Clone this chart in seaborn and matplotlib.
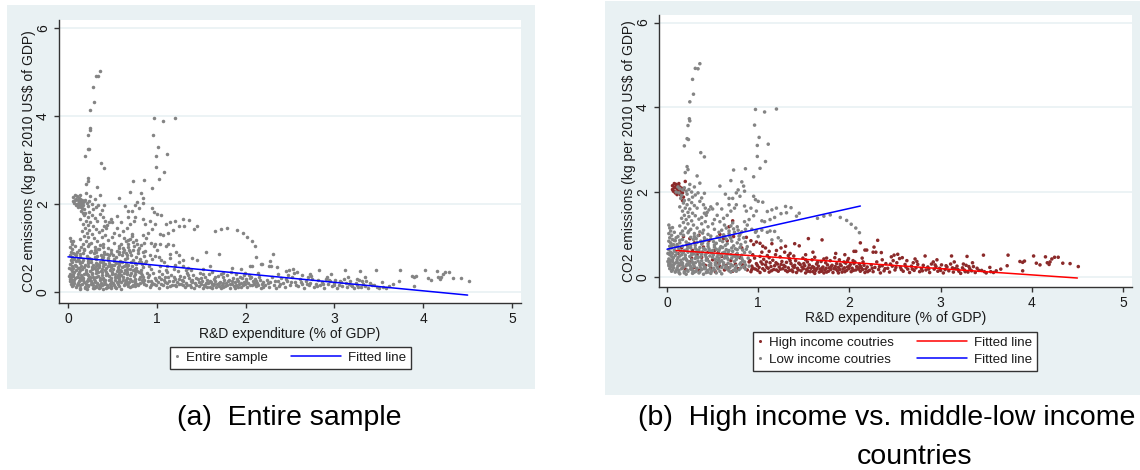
import matplotlib
matplotlib.use("Agg")
import pandas as pd
import matplotlib.pyplot as plt
import seaborn as sns
from matplotlib.patches import Rectangle
from matplotlib.lines import Line2D
from matplotlib.legend_handler import HandlerLine2D

# ---- data: (R&D % of GDP, CO2 kg per 2010 US$) ----
# low income countries (grey)
low_peak = [(0.36,5.03),(0.31,4.92),(0.34,4.91),(0.28,4.66),(0.29,4.31),(0.25,4.13),(0.245,3.73),(0.25,3.68),
            (0.23,3.57),(0.22,3.26),(0.235,3.24),(0.19,3.09),(0.37,2.93),(0.41,2.83),(0.22,2.60),(0.23,2.53),
            (0.20,2.46),(0.33,2.38),(0.36,2.21),(0.30,2.12),(0.41,1.97),(0.38,1.86)]
low_arc = [(0.97,3.95),(1.07,3.89),(1.20,3.96),(0.96,3.58),(1.01,3.29),(0.99,3.10),(1.11,3.13),(0.99,2.84),
           (1.02,2.56),(1.08,2.72),(0.95,2.36),(0.86,2.55),(0.73,2.52),(0.70,2.27),(0.82,2.24),(0.84,2.14),
           (0.78,2.05),(0.85,2.02),(0.76,1.98),(0.80,1.90),(0.95,1.90),(0.97,1.82),(1.00,1.78),(1.05,1.76),
           (0.72,1.85),(0.68,1.70),(0.58,2.14),(0.64,1.95)]
low_tail = [(1.15,1.58),(1.20,1.62),(1.30,1.66),(1.36,1.63),(1.45,1.50),(1.25,1.49),(1.10,1.54),(1.13,1.35),
            (1.07,1.30),(1.65,1.38),(1.72,1.43),(1.79,1.46),(1.90,1.40),(1.97,1.33),(2.02,1.24),(2.07,1.15),
            (2.11,1.04),(1.04,1.10),(1.10,1.05),(1.18,1.07),(1.22,0.92),(1.25,0.85),(1.15,0.87),(0.85,1.67),
            (0.98,1.55),(1.04,1.32),(1.18,1.40),(0.95,1.44),(0.98,1.08),(1.13,1.08),(1.31,1.51),(1.42,1.43),
            (0.87,1.55),(0.90,1.35),(0.92,1.62),(0.85,1.30),(0.88,1.22),(0.93,1.12),(1.00,0.95),(0.97,1.05)]
low_edge = [(0.02,1.22),(0.03,1.15),(0.04,1.08),(0.02,1.02),(0.05,0.98),(0.03,0.92),(0.06,0.88),(0.02,0.84),
            (0.04,0.80),(0.07,0.76),(0.03,0.72),(0.05,0.68),(0.02,0.64),(0.08,0.62),(0.04,0.58),(0.06,0.55),
            (0.03,0.52),(0.05,0.48),(0.07,0.45),(0.02,0.42),(0.04,0.39),(0.06,0.36),(0.03,0.33),(0.08,0.31),
            (0.05,0.28),(0.02,0.26),(0.04,0.23),(0.07,0.21),(0.03,0.19),(0.06,0.16),(0.05,0.13),(0.09,0.11),
            (0.02,0.30),(0.09,0.50),(0.09,0.70),(0.10,0.92),(0.08,1.05),(0.06,1.16),(0.01,0.55),(0.01,0.36)]
low_upper = [(0.12,2.12),(0.14,2.08),(0.17,2.05),(0.19,2.10),(0.21,2.02),(0.24,2.06),(0.27,2.00),(0.13,1.98),
             (0.16,1.92),(0.22,1.95),(0.28,1.88),(0.31,1.93),(0.15,1.85),(0.19,1.80),(0.24,1.82),(0.18,1.74),
             (0.22,1.70),(0.27,1.75),(0.30,1.68),(0.14,1.65),(0.20,1.62),(0.25,1.60),(0.33,1.62),(0.17,1.55),
             (0.23,1.52),(0.28,1.50),(0.19,1.45),(0.24,1.42),(0.31,1.44),(0.16,1.38),(0.21,1.35),(0.27,1.32),
             (0.35,1.36),(0.18,1.28),(0.23,1.25),(0.29,1.22),(0.14,1.20),(0.20,1.15),(0.26,1.12),(0.33,1.15),
             (0.38,1.25),(0.42,1.30),(0.17,1.08),(0.23,1.04),(0.30,1.02),(0.36,1.06),(0.40,1.10),(0.45,1.18),
             (0.43,1.45),(0.46,1.58),(0.48,1.65),(0.40,1.70),(0.36,1.78),(0.25,2.18),(0.10,2.00),(0.34,1.98),
             (0.44,1.52),(0.50,1.60),(0.42,1.62),(0.55,1.72),(0.60,1.60),(0.68,1.85),(0.45,1.00),(0.52,1.12),
             (0.38,1.40),(0.41,1.50)]
low_hump = [(0.60,1.10),(0.65,1.15),(0.70,1.20),(0.73,1.13),(0.77,1.18),(0.68,1.08),(0.63,1.22),(0.72,1.27),
            (0.78,1.10),(0.82,1.06),(0.86,1.12),(0.58,1.30),(0.62,1.38),(0.66,1.45),(0.70,1.55),(0.74,1.62),
            (0.76,1.70),(0.55,1.45),(0.52,1.35),(0.50,1.25)]
low_core = [(0.12,0.95),(0.18,0.98),(0.26,0.93),(0.34,0.97),(0.41,0.92),(0.48,0.96),(0.55,0.94),(0.62,0.99),
            (0.68,1.02),(0.74,1.05),(0.80,1.00),(0.14,0.86),(0.21,0.82),(0.29,0.88),(0.37,0.84),(0.44,0.87),
            (0.51,0.83),(0.58,0.86),(0.65,0.89),(0.71,0.84),(0.79,0.88),(0.86,0.82),(0.11,0.76),(0.17,0.72),
            (0.24,0.78),(0.31,0.74),(0.38,0.77),(0.45,0.72),(0.52,0.75),(0.59,0.71),(0.66,0.78),(0.73,0.73),
            (0.81,0.76),(0.88,0.71),(0.13,0.66),(0.19,0.62),(0.26,0.68),(0.33,0.63),(0.40,0.67),(0.47,0.61),
            (0.54,0.65),(0.61,0.69),(0.68,0.62),(0.75,0.66),(0.83,0.63),(0.22,0.65),(0.36,0.69),(0.11,0.55),
            (0.16,0.52),(0.23,0.58),(0.29,0.54),(0.35,0.57),(0.42,0.51),(0.49,0.56),(0.56,0.53),(0.63,0.58),
            (0.70,0.52),(0.77,0.55),(0.85,0.57),(0.20,0.51),(0.39,0.59),(0.59,0.50),(0.12,0.45),(0.18,0.42),
            (0.25,0.48),(0.31,0.43),(0.37,0.47),(0.44,0.41),(0.50,0.46),(0.57,0.43),(0.64,0.49),(0.71,0.44),
            (0.78,0.47),(0.14,0.49),(0.27,0.40),(0.47,0.49),(0.67,0.41),(0.34,0.45),(0.11,0.35),(0.17,0.32),
            (0.22,0.38),(0.28,0.34),(0.34,0.37),(0.40,0.31),(0.46,0.36),(0.53,0.33),(0.60,0.38),(0.67,0.32),
            (0.74,0.36),(0.81,0.33),(0.15,0.39),(0.25,0.31),(0.43,0.39),(0.57,0.30),(0.31,0.33),(0.12,0.25),
            (0.18,0.22),(0.24,0.28),(0.30,0.24),(0.36,0.27),(0.42,0.21),(0.48,0.26),(0.55,0.23),(0.62,0.28),
            (0.69,0.22),(0.76,0.26),(0.84,0.24),(0.15,0.29),(0.27,0.20),(0.39,0.29),(0.51,0.20),(0.65,0.25),
            (0.21,0.26),(0.13,0.15),(0.19,0.12),(0.26,0.18),(0.32,0.14),(0.38,0.17),(0.45,0.11),(0.52,0.16),
            (0.58,0.13),(0.66,0.18),(0.73,0.15),(0.16,0.19),(0.29,0.10),(0.41,0.19),(0.23,0.13),(0.35,0.09),
            (0.14,0.07),(0.21,0.06),(0.28,0.08),(0.40,0.06),(0.48,0.08),(0.60,0.07)]
low_fill = [(0.15,0.60),(0.27,0.57),(0.38,0.53),(0.50,0.62),(0.61,0.56),(0.72,0.60),(0.20,0.45),(0.32,0.49),
            (0.43,0.46),(0.55,0.47),(0.66,0.52),(0.76,0.41),(0.13,0.31),(0.24,0.35),(0.36,0.32),(0.48,0.31),
            (0.58,0.35),(0.70,0.29),(0.80,0.30),(0.17,0.27),(0.29,0.29),(0.41,0.24),(0.53,0.28),(0.64,0.21),
            (0.75,0.20),(0.86,0.28),(0.11,0.20),(0.22,0.16),(0.33,0.20),(0.44,0.15),(0.56,0.19),(0.68,0.14),
            (0.79,0.17),(0.19,0.09),(0.31,0.12),(0.43,0.10),(0.54,0.09),(0.26,0.74),(0.39,0.80),(0.52,0.70),
            (0.64,0.74),(0.77,0.80),(0.14,0.80),(0.30,0.95),(0.45,0.78),(0.58,0.91),(0.69,0.95),(0.84,0.92),
            (0.09,0.85),(0.11,0.40),(0.10,0.15),(0.35,0.62),(0.46,0.66),(0.57,0.62),(0.63,0.44),(0.73,0.49),
            (0.82,0.51),(0.89,0.44),(0.91,0.58),(0.90,0.25),(0.87,0.65),(0.83,0.38)]
low_fill2 = [(0.16,0.34),(0.21,0.41),(0.26,0.24),(0.32,0.58),(0.37,0.21),(0.42,0.64),(0.47,0.18),(0.53,0.41),
             (0.58,0.67),(0.62,0.33),(0.67,0.58),(0.72,0.26),(0.77,0.64),(0.82,0.43),(0.86,0.18),(0.18,0.57),
             (0.23,0.70),(0.28,0.15),(0.33,0.81),(0.38,0.38),(0.43,0.55),(0.49,0.13),(0.54,0.79),(0.60,0.22),
             (0.65,0.64),(0.70,0.11),(0.75,0.48),(0.80,0.69),(0.85,0.35),(0.13,0.10),(0.17,0.88),(0.22,0.30),
             (0.27,0.52),(0.31,0.67),(0.36,0.12),(0.41,0.86),(0.46,0.27),(0.51,0.52),(0.56,0.38),(0.61,0.83),
             (0.66,0.45),(0.71,0.68),(0.76,0.13),(0.81,0.21),(0.12,0.71),(0.15,1.02),(0.24,1.08),(0.32,0.90),
             (0.39,1.03),(0.48,0.89),(0.57,1.05),(0.63,0.95),(0.70,0.91),(0.79,0.96),(0.06,0.40),(0.08,0.86),
             (0.07,0.27),(0.09,0.60),(0.10,0.33),(0.05,0.74)]

# high income countries (dark red)
high_top = [(0.06,2.15),(0.08,2.10),(0.10,2.18),(0.12,2.05),(0.14,2.12),(0.07,2.02),(0.09,1.98),(0.11,2.08),
            (0.13,1.99),(0.15,2.03),(0.16,2.09),(0.08,2.20),(0.12,2.14),(0.10,2.01),(0.14,1.96),(0.06,2.06),
            (0.17,1.98),(0.11,1.94),(0.09,2.12),(0.13,2.20),(0.18,2.06),(0.15,1.93),(0.20,2.25),(0.18,1.88),
            (0.17,1.80)]
high_left = [(0.12,0.55),(0.18,0.95),(0.22,0.75),(0.28,0.62),(0.33,0.52),(0.38,0.46),(0.45,0.58),(0.50,0.40),
             (0.55,0.33),(0.60,0.48),(0.65,0.27),(0.70,0.38),(0.75,0.30),(0.80,0.45),(0.85,0.22),(0.14,0.28),
             (0.20,0.18),(0.25,0.35),(0.30,0.22),(0.35,0.15),(0.42,0.27),(0.48,0.20),(0.53,0.12),(0.58,0.24),
             (0.63,0.16),(0.68,0.21),(0.72,0.13),(0.78,0.19),(0.83,0.28),(0.88,0.16),(0.90,0.35),(0.62,0.90),
             (0.58,1.00),(0.66,0.85),(0.73,0.95),(0.82,0.68),(0.87,0.93),(0.92,0.85),(0.95,0.76),(0.98,0.82),
             (1.02,0.79),(1.05,0.72),(1.08,0.68),(1.12,0.60),(0.25,0.90),(0.30,0.80),(0.16,0.68),(0.40,0.70),
             (0.46,0.85),(0.52,0.62),(0.68,1.18),(0.72,1.32),(0.35,0.98),(0.27,0.44),(0.44,0.42),(0.56,0.57),
             (0.76,0.52)]
high_band = [(0.92,0.12),(0.93,0.25),(0.91,0.38),(0.94,0.52),(0.97,0.18),(0.98,0.31),(0.96,0.44),(1.02,0.10),
             (1.01,0.22),(1.03,0.35),(1.02,0.48),(1.04,0.58),(1.07,0.15),(1.08,0.28),(1.06,0.41),(1.12,0.11),
             (1.11,0.20),(1.13,0.33),(1.12,0.45),(1.17,0.17),(1.18,0.26),(1.16,0.39),(1.19,0.52),(1.22,0.13),
             (1.23,0.23),(1.21,0.30),(1.24,0.47),(1.27,0.19),(1.28,0.27),(1.26,0.36),(1.29,0.58),(1.32,0.12),
             (1.33,0.21),(1.31,0.34),(1.34,0.43),(1.37,0.16),(1.38,0.25),(1.36,0.31),(1.39,0.49),(1.42,0.10),
             (1.43,0.20),(1.41,0.38),(1.47,0.14),(1.48,0.23),(1.46,0.29),(1.49,0.44),(1.52,0.09),(1.53,0.17),
             (1.51,0.26),(1.54,0.35),(1.52,0.52),(1.57,0.12),(1.58,0.20),(1.56,0.28),(1.59,0.40),(1.62,0.08),
             (1.63,0.15),(1.61,0.22),(1.64,0.30),(1.62,0.46),(1.67,0.11),(1.68,0.18),(1.66,0.25),(1.69,0.36),
             (1.72,0.09),(1.73,0.16),(1.71,0.23),(1.74,0.33),(1.72,0.42),(1.77,0.13),(1.78,0.21),(1.76,0.28),
             (1.79,0.38),(1.82,0.10),(1.83,0.19),(1.81,0.27),(1.84,0.45),(1.87,0.14),(1.88,0.22),(1.86,0.31),
             (1.89,0.40),(1.92,0.11),(1.93,0.18),(1.91,0.26),(1.94,0.35),(1.97,0.15),(1.98,0.23),(1.96,0.32),
             (1.99,0.43),(2.02,0.12),(2.03,0.20),(2.01,0.29),(2.04,0.38),(2.07,0.16),(2.08,0.24),(2.06,0.35),
             (2.12,0.13),(2.13,0.21),(2.11,0.30),(2.14,0.44),(2.17,0.10),(2.18,0.18),(2.16,0.27),(0.945,0.20),
             (0.995,0.15),(1.045,0.30),(1.095,0.22),(1.145,0.14),(1.195,0.33),(1.245,0.18),(1.295,0.24),
             (1.345,0.15),(1.395,0.22),(1.445,0.32),(1.495,0.19),(1.545,0.13),(1.595,0.24),(1.645,0.19),
             (1.695,0.13),(1.745,0.20),(1.795,0.17),(1.845,0.24),(1.895,0.17),(1.945,0.21),(1.995,0.19),
             (2.045,0.15),(2.095,0.21),(2.145,0.17),(2.195,0.23)]
high_fill = [(0.93,0.17),(0.99,0.27),(1.05,0.19),(1.09,0.35),(1.14,0.24),(1.20,0.16),(1.25,0.29),(1.30,0.15),
             (1.35,0.38),(1.40,0.27),(1.44,0.16),(1.50,0.31),(1.55,0.21),(1.60,0.12),(1.65,0.34),(1.70,0.20),
             (1.75,0.11),(1.80,0.24),(1.85,0.18),(1.90,0.29),(1.95,0.12),(2.00,0.25),(2.05,0.31),(2.10,0.18),
             (2.15,0.35),(2.20,0.12),(2.25,0.20),(2.33,0.24),(2.39,0.19),(2.45,0.30),(2.51,0.22),(2.57,0.17),
             (2.62,0.23),(2.69,0.18),(2.74,0.36),(2.80,0.14),(2.87,0.18),(2.94,0.28),(3.00,0.15),(3.06,0.26),
             (3.13,0.21),(3.19,0.17),(3.25,0.30),(3.31,0.24),(3.35,0.33),(3.27,0.12),(3.15,0.35),(2.96,0.40),
             (2.72,0.42),(2.48,0.38),(2.36,0.40),(1.98,0.38),(1.75,0.44),(1.52,0.40),(1.33,0.50),(1.10,0.50),
             (1.38,0.12),(1.62,0.18),(1.88,0.09),(2.12,0.25)]
high_mid = [(1.40,0.78),(1.45,0.73),(1.55,0.90),(1.70,0.87),(1.25,0.68),(1.30,0.72),(1.15,0.78),(2.05,0.60),
            (2.12,0.80),(2.17,0.63),(2.19,0.63),(2.07,0.60),(2.26,0.58),(2.29,0.58),(2.27,0.70),(2.31,0.86),
            (2.35,0.57),(1.20,0.62),(1.35,0.55),(1.60,0.58),(1.85,0.55),(1.95,0.52)]
high_right = [(2.22,0.15),(2.24,0.28),(2.26,0.12),(2.28,0.22),(2.30,0.35),(2.32,0.17),(2.34,0.09),(2.36,0.26),
              (2.38,0.14),(2.40,0.31),(2.42,0.20),(2.44,0.11),(2.46,0.47),(2.47,0.25),(2.49,0.51),(2.50,0.16),
              (2.52,0.33),(2.53,0.53),(2.55,0.43),(2.56,0.22),(2.58,0.45),(2.59,0.13),(2.61,0.29),(2.63,0.38),
              (2.64,0.18),(2.66,0.10),(2.68,0.25),(2.70,0.33),(2.71,0.15),(2.73,0.21),(2.75,0.29),(2.77,0.12),
              (2.79,0.19),(2.81,0.27),(2.83,0.49),(2.84,0.16),(2.86,0.23),(2.88,0.10),(2.90,0.30),(2.92,0.35),
              (2.93,0.18),(2.95,0.24),(2.97,0.13),(2.99,0.20),(3.01,0.28),(3.03,0.09),(3.05,0.17),(3.07,0.23),
              (3.09,0.14),(3.11,0.30),(3.12,0.49),(3.14,0.11),(3.16,0.19),(3.18,0.25),(3.20,0.13),(3.22,0.08),
              (3.24,0.21),(3.26,0.16),(3.28,0.27),(3.29,0.48),(3.30,0.11),(3.32,0.19),(3.34,0.14),(3.36,0.24),
              (3.38,0.10),(3.40,0.20),(3.42,0.15),(3.45,0.15),(3.47,0.51),(3.48,0.12),(3.50,0.09)]
high_tail = [(3.54,0.22),(3.61,0.14),(3.73,0.26),(3.74,0.51),(3.87,0.36),(3.90,0.34),(3.92,0.37),(3.90,0.14),
             (4.02,0.49),(4.05,0.32),(4.09,0.28),(4.15,0.47),(4.17,0.33),(4.20,0.35),(4.22,0.42),(4.25,0.46),
             (4.19,0.29),(4.29,0.46),(4.34,0.32),(4.42,0.31),(4.51,0.24),(3.55,0.12),(3.58,0.10),(3.66,0.18)]

# fitted lines (end points)
fit_all_x, fit_all_y = [0.0, 4.5], [0.80, -0.07]
fit_high_x, fit_high_y = [0.10, 4.5], [0.62, -0.03]
fit_low_x, fit_low_y = [0.0, 2.12], [0.65, 1.67]

HIGH = "High income coutries"
LOW = "Low income coutries"


def frame(pts, group):
    return pd.DataFrame(pts, columns=["rd", "co2"]).assign(group=group)


high_sets = [high_top, high_left, high_band, high_fill, high_mid, high_right, high_tail]
low_sets = [low_peak, low_arc, low_tail, low_edge, low_upper, low_hump, low_core, low_fill, low_fill2]
df = pd.concat([frame(p, HIGH) for p in high_sets] + [frame(p, LOW) for p in low_sets], ignore_index=True)

GREY = "#848484"
DRED = "#8B2A2A"
BG = "#E9F1F3"
INK = "#1a1a1a"

sns.set_style("white")
plt.rcParams["font.family"] = ["Liberation Sans", "DejaVu Sans"]
plt.rcParams.update({"text.color": INK, "axes.labelcolor": INK, "xtick.color": INK, "ytick.color": INK})

fig = plt.figure(figsize=(11.4, 4.7), dpi=100)
W, H = 1140, 470
fig.patches.append(Rectangle((7 / W, 1 - 389 / H), 528 / W, 384 / H, transform=fig.transFigure,
                             facecolor=BG, edgecolor="none", zorder=-5))
fig.patches.append(Rectangle((605 / W, 1 - 395 / H), 535 / W, 394 / H, transform=fig.transFigure,
                             facecolor=BG, edgecolor="none", zorder=-5))

ax1 = fig.add_axes([59 / W, 1 - 303 / H, 462 / W, 283 / H])
ax2 = fig.add_axes([659 / W, 1 - 286.7 / H, 473 / W, 271.7 / H])


class LongLine(HandlerLine2D):
    # line drawn to the left of a short handle box, like Stata's key
    def get_xdata(self, legend, xdescent, ydescent, width, height, fontsize):
        right = -xdescent + width
        return [right - 36, right], [right]


sns.scatterplot(data=df, x="rd", y="co2", color=GREY, s=6.5, linewidth=0, ax=ax1, legend=False)
sns.lineplot(x=fit_all_x, y=fit_all_y, color="#0000FF", lw=1.1, ax=ax1, legend=False)

sns.scatterplot(data=df, x="rd", y="co2", hue="group", hue_order=[HIGH, LOW],
                palette={HIGH: DRED, LOW: GREY}, s=6.5, linewidth=0, ax=ax2, legend=False)
sns.lineplot(x=fit_high_x, y=fit_high_y, color="#FF0000", lw=1.1, ax=ax2, legend=False)
sns.lineplot(x=fit_low_x, y=fit_low_y, color="#0000FF", lw=1.1, ax=ax2, legend=False)

limits = {ax1: ((-0.101, 5.101), (-0.25, 6.183)), ax2: ((-0.088, 5.099), (-0.235, 6.18))}
for ax in (ax1, ax2):
    ax.set_facecolor("white")
    ax.set_xlim(*limits[ax][0])
    ax.set_ylim(*limits[ax][1])
    ax.set_xticks([0, 1, 2, 3, 4, 5])
    ax.set_yticks([0, 2, 4, 6])
    ax.yaxis.grid(True, color=BG, lw=1.2)
    ax.set_axisbelow(True)
    for s in ("top", "right"):
        ax.spines[s].set_visible(False)
    for s in ("left", "bottom"):
        ax.spines[s].set_color("#333333")
        ax.spines[s].set_linewidth(1)
    ax.tick_params(axis="both", length=3.3, width=1, color="#333333", labelsize=10, pad=3.2,
                   left=True, bottom=True)
    ax.tick_params(axis="y", labelrotation=90)
    plt.setp(ax.get_yticklabels(), va="center")
    ax.set_xlabel("R&D expenditure (% of GDP)", fontsize=10, labelpad=1)
    ax.set_ylabel("CO2 emissions (kg per 2010 US$ of GDP)", fontsize=10, labelpad=0)

dot = dict(ls="none", marker="o", ms=2.2, markeredgewidth=0)
h_all = Line2D([], [], color=GREY, **dot)
l_all = Line2D([], [], color="#0000FF", lw=1.1)
h_high = Line2D([], [], color=DRED, **dot)
h_low = Line2D([], [], color=GREY, **dot)
l_high = Line2D([], [], color="#FF0000", lw=1.1)
l_low = Line2D([], [], color="#0000FF", lw=1.1)

leg_kw = dict(loc="upper center", ncol=2, fontsize=9.6, frameon=True, fancybox=False, framealpha=1,
              edgecolor="#333333", borderaxespad=0, handlelength=0.35, handletextpad=0.55,
              columnspacing=5.1, borderpad=0.35, labelspacing=0.35, numpoints=1)
leg1 = fig.legend([h_all, l_all], ["Entire sample", "Fitted line"], bbox_to_anchor=(290.5 / W, 1 - 347 / H),
                  handler_map={l_all: LongLine()}, **leg_kw)
leg2 = fig.legend([h_high, h_low, l_high, l_low], [HIGH, LOW, "Fitted line", "Fitted line"],
                  bbox_to_anchor=(895 / W, 1 - 332 / H),
                  handler_map={l_high: LongLine(), l_low: LongLine()}, **leg_kw)
for leg in (leg1, leg2):
    leg.get_frame().set_linewidth(1)

fig.text(289 / W, 1 - 418 / H, "(a)  Entire sample", fontsize=20.5, color="black", ha="center", va="center")
fig.text(638 / W, 1 - 418 / H, "(b)  High income vs. middle-low income", fontsize=20.5, color="black",
         ha="left", va="center")
fig.text(914 / W, 1 - 457 / H, "countries", fontsize=20.5, color="black", ha="center", va="center")

fig.savefig("out.png", dpi=100)
